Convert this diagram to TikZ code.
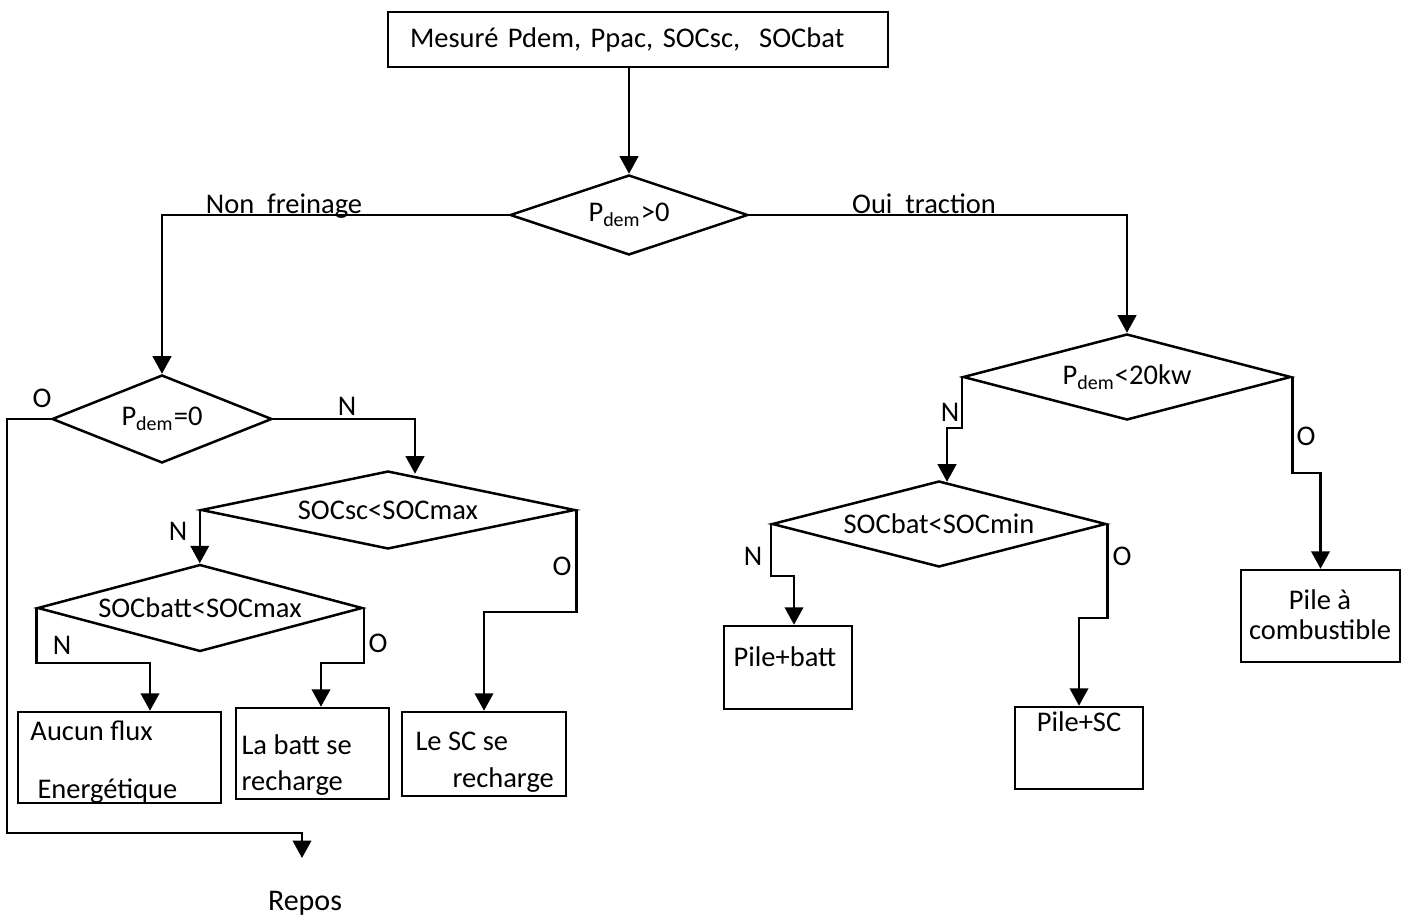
\documentclass[tikz,border=0pt]{standalone}
\usepackage{fontspec}
\setmainfont{Carlito}
\usetikzlibrary{shapes.geometric,arrows.meta,calc}
\begin{document}
\begin{tikzpicture}[x=0.4pt,y=-0.4pt,
  every node/.style={font=\fontsize{11.4}{14.4}\selectfont},
  ln/.style={line width=1pt},
  arr/.style={ln,-{Triangle[width=7.4pt,length=7pt]}},
  sz/.style 2 args={minimum width=#1*0.4pt,minimum height=#2*0.4pt},
  box/.style={draw,ln,inner sep=0pt},
  dia/.style={draw,ln,diamond,inner sep=0pt},
  txt/.style={inner sep=0pt},
  lbl/.style={inner sep=0pt,anchor=base}]
\useasboundingbox (0,0) rectangle (1403,917);

% top box
\node[box,sz={500}{55},text width=182.4pt,align=left] (top) at (638,39.5) {Mesuré Pdem, Ppac, SOCsc,\ \ SOCbat};

% decisions
\node[dia,sz={238}{80},shape aspect=3] (d1) at (629,215) {P\textsubscript{dem}>0};
\node[dia,sz={220}{88},shape aspect=2.5] (d2) at (162,419) {P\textsubscript{dem}=0};
\node[dia,sz={328}{86},shape aspect=3.8] (d3) at (1127,377) {P\textsubscript{dem}<20kw};
\node[dia,sz={374}{78},shape aspect=4.8] (d4) at (388,510) {SOCsc<SOCmax};
\node[dia,sz={325}{87},shape aspect=3.7] (d5) at (200,608) {SOCbatt<SOCmax};
\node[dia,sz={334}{86},shape aspect=3.9] (d6) at (939,524) {SOCbat<SOCmin};

% result boxes
\node[box,sz={203}{91}] (b1) at (119.5,757.5) {};
\node[box,sz={153}{91}] (b2) at (312.5,753.5) {};
\node[box,sz={164}{84}] (b3) at (484,754) {};
\node[box,sz={128}{83}] (b4) at (788,667.5) {};
\node[box,sz={128}{82}] (b5) at (1079,748) {};
\node[box,sz={159}{92}] (b6) at (1320.5,616) {};

% box texts
\node[txt,anchor=base west] (b1a) at (30,740) {Aucun flux};
\node[txt,anchor=base west] (b1b) at (37,798) {Energétique};
\node[txt,anchor=base west] (b2a) at (241,754) {La batt se};
\node[txt,anchor=base west] (b2b) at (241,790) {recharge};
\node[txt,anchor=base west] (b3a) at (415,750) {Le SC se};
\node[txt,anchor=base west] (b3b) at (452,787) {recharge};
\node[txt,anchor=base] (b4a) at (785,666) {Pile+batt};
\node[txt,anchor=base] (b5a) at (1079,731) {Pile+SC};
\node[txt,anchor=base] (b6a) at (1320,609) {Pile à};
\node[txt,anchor=base] (b6b) at (1320,639) {combustible};
\node[txt,anchor=base,font=\fontsize{12}{14}\selectfont] (rep) at (305,910) {Repos};

% labels
\node[lbl] (lnf) at (284,214) {Non~ freinage};
\node[lbl] (lot) at (924,214) {Oui~ traction};
\node[lbl] (l1) at (42,408) {O};
\node[lbl] (l2) at (347,416) {N};
\node[lbl] (l3) at (178,540) {N};
\node[lbl] (l4) at (562,575) {O};
\node[lbl] (l5) at (62,654) {N};
\node[lbl] (l6) at (378,652) {O};
\node[lbl] (l7) at (950,422) {N};
\node[lbl] (l8) at (1306,446) {O};
\node[lbl] (l9) at (753,565) {N};
\node[lbl] (l10) at (1122,565) {O};

% free-end coordinates
\coordinate (c1) at (7,833);
\coordinate (rp) at (302,858);

% connectors
\draw[arr] (top.south -| d1.north) -- (d1.north);
\draw[arr] (d1.west) -| (d2.north);
\draw[arr] (d1.east) -| (d3.north);
\draw[arr] (d2.west) -| (c1) -| (rp);
\draw[arr] (d2.east) -| ($(d4.north)+(27,4)$);
\draw[arr] (d4.west) -- (d4.west |- d5.north);
\draw[arr] (d4.east) -- ++(0,102) -| (b3.north);
\draw[arr] (d5.west) -- ++(0,55) -| ($(b1.north)+(30.5,0)$);
\draw[arr] (d5.east) -- ++(0,55) -| ($(b2.north)+(8.5,0)$);
\draw[arr] (d3.west) -- ++(0,51) -| ($(d6.north)+(8,2)$);
\draw[arr] (d3.east) -- ++(0,96) -| (b6.north);
\draw[arr] (d6.west) -- ++(0,52) -| ($(b4.north)+(6,0)$);
\draw[arr] (d6.east) -- ++(0,94) -| (b5.north);
\end{tikzpicture}
\end{document}
